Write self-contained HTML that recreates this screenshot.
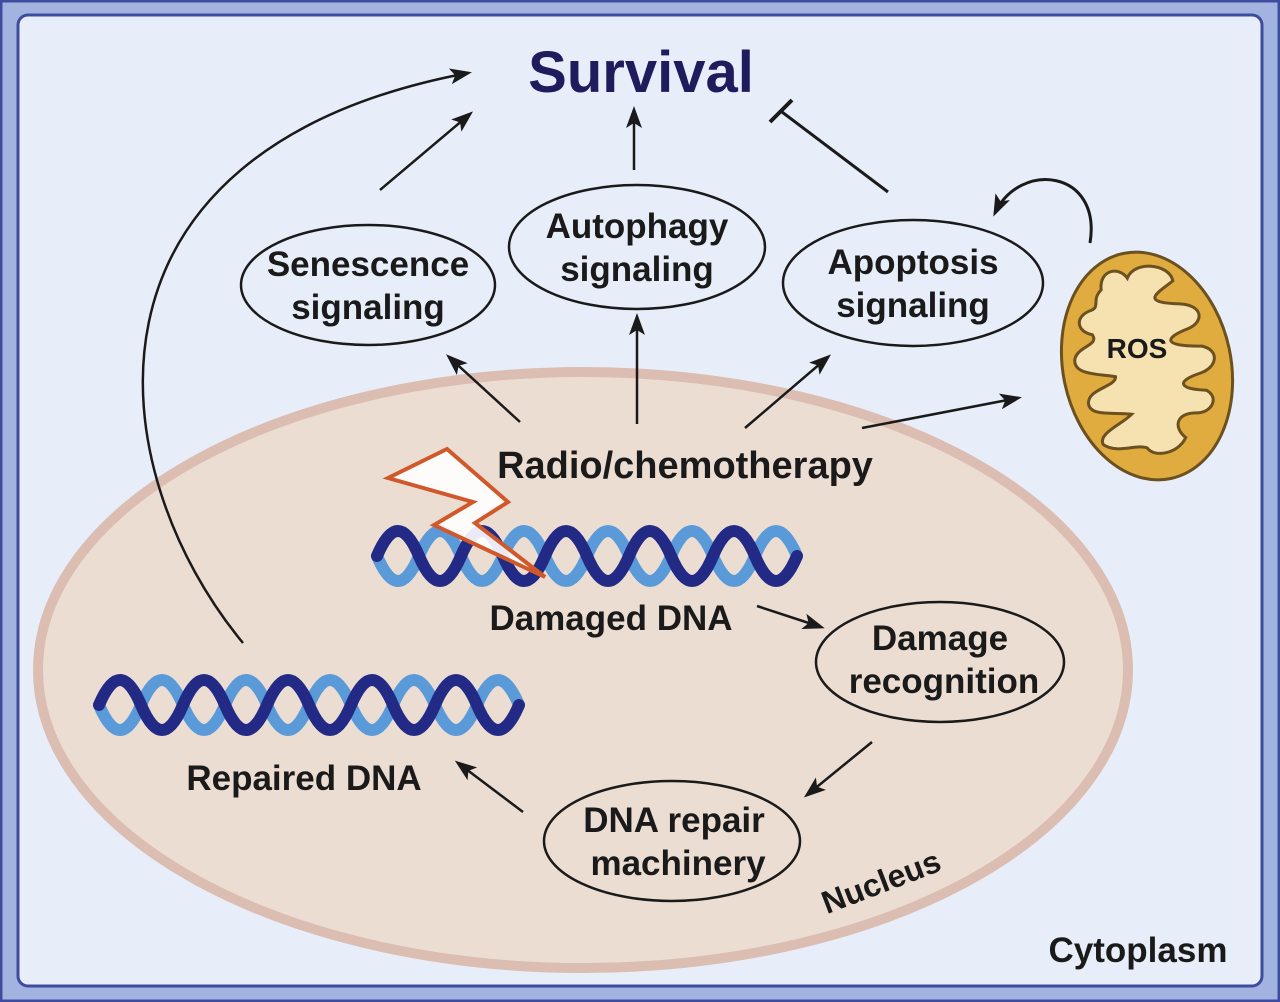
<!DOCTYPE html>
<html><head><meta charset="utf-8"><style>
html,body{margin:0;padding:0;background:#fff}
svg{display:block}
text{font-family:"Liberation Sans",Arial,sans-serif;font-weight:bold;fill:#1a1a1a}
</style></head><body>
<svg width="1280" height="1002" viewBox="0 0 1280 1002" xmlns="http://www.w3.org/2000/svg">
<defs>
<marker id="ahb" markerWidth="22" markerHeight="16" refX="18" refY="8" orient="auto" markerUnits="userSpaceOnUse">
<path d="M0,0 L22,8 L0,16 L5,8 Z" fill="#1a1a1a"/></marker>
</defs>
<rect x="1" y="1" width="1278" height="1000" fill="#a3b3e0" stroke="#3d4c9e" stroke-width="3"/>
<rect x="18" y="15" width="1244" height="971" rx="10" fill="#e8eef9" stroke="#3d4c9e" stroke-width="3"/>
<ellipse cx="583" cy="670" rx="545" ry="298" fill="#ecddd3" stroke="#dcbdb1" stroke-width="10"/>

<g stroke="#1a1a1a" stroke-width="2.5" fill="none">
<line x1="380" y1="190" x2="470" y2="114" marker-end="url(#ahb)"/>
<line x1="634" y1="170" x2="634" y2="110" marker-end="url(#ahb)"/>
<line x1="888" y1="192" x2="782" y2="112" stroke-width="3"/>
<line x1="770" y1="122" x2="792" y2="100" stroke-width="4"/>
<line x1="520" y1="422" x2="449" y2="357" marker-end="url(#ahb)"/>
<line x1="637" y1="424" x2="637" y2="317" marker-end="url(#ahb)"/>
<line x1="745" y1="428" x2="828" y2="357" marker-end="url(#ahb)"/>
<line x1="862" y1="428" x2="1018" y2="398" marker-end="url(#ahb)"/>
<line x1="757" y1="606" x2="821" y2="627" marker-end="url(#ahb)"/>
<line x1="872" y1="742" x2="807" y2="795" marker-end="url(#ahb)"/>
<line x1="523" y1="812" x2="458" y2="763" marker-end="url(#ahb)"/>
<path d="M243,643 C100,470 60,150 468,73" stroke-width="2.5" marker-end="url(#ahb)"/>
<path d="M1090,243 C1102,170 1020,160 995,213" stroke-width="3" marker-end="url(#ahb)"/>
</g>

<g fill="#e8eef9" stroke="#1a1a1a" stroke-width="2.5">
<ellipse cx="368" cy="285" rx="127" ry="60"/>
<ellipse cx="637" cy="247" rx="128" ry="62"/>
<ellipse cx="913" cy="283" rx="130" ry="63"/>
</g>
<g fill="#ecddd3" stroke="#1a1a1a" stroke-width="2.5">
<ellipse cx="940" cy="662" rx="124" ry="60"/>
<ellipse cx="672" cy="841" rx="128" ry="60"/>
</g>

<g transform="rotate(-12 1147 366)">
<ellipse cx="1147" cy="366" rx="84" ry="115" fill="#e0ab3f" stroke="#6b5020" stroke-width="3"/>
<path d="M1118,282 C1120,262 1140,262 1146,276 C1156,260 1190,270 1190,288 C1175,296 1150,302 1192,312 C1215,318 1212,335 1195,338 C1170,342 1165,350 1205,358 C1222,366 1215,382 1198,384 C1170,387 1175,396 1200,402 C1212,412 1200,426 1185,422 C1165,418 1160,432 1170,444 C1160,458 1135,458 1130,446 C1120,440 1100,446 1088,434 C1084,422 1110,418 1122,410 C1105,404 1080,404 1082,390 C1085,376 1112,380 1114,370 C1100,364 1072,360 1078,344 C1084,332 1105,336 1100,324 C1085,318 1086,302 1104,300 C1114,298 1106,290 1118,282 Z" fill="#f6e1b1" stroke="#6b5020" stroke-width="3"/>
</g>
<text x="1137" y="358" font-size="28" text-anchor="middle">ROS</text>

<g fill="none" stroke-linecap="round" stroke-width="12">
<path d="M377,556 q21,50 42,0 t42,0 t42,0 t42,0 t42,0 t42,0 t42,0 t42,0 t42,0 t42,0" stroke="#5a9ad8"/>
<path d="M377,556 q21,-50 42,0 t42,0 t42,0 t42,0 t42,0 t42,0 t42,0 t42,0 t42,0 t42,0" stroke="#232a85"/>
<path d="M99,705 q21,50 42,0 t42,0 t42,0 t42,0 t42,0 t42,0 t42,0 t42,0 t42,0 t42,0" stroke="#5a9ad8"/>
<path d="M99,705 q21,-50 42,0 t42,0 t42,0 t42,0 t42,0 t42,0 t42,0 t42,0 t42,0 t42,0" stroke="#232a85"/>
</g>
<polygon points="388,478 447,449 508,502 475,523 545,577 434,525 473,502" fill="#ffffff" fill-opacity="0.9" stroke="#d0582a" stroke-width="4"/>

<text x="641" y="92" font-size="58" text-anchor="middle" style="fill:#1f1b5c">Survival</text>
<g font-size="35" text-anchor="middle">
<text x="368" y="276">Senescence</text><text x="368" y="319">signaling</text>
<text x="637" y="238">Autophagy</text><text x="637" y="281">signaling</text>
<text x="913" y="274">Apoptosis</text><text x="913" y="317">signaling</text>
<text x="940" y="650">Damage</text><text x="944" y="693">recognition</text>
<text x="674" y="832">DNA repair</text><text x="678" y="875">machinery</text>
<text x="685" y="478" font-size="38">Radio/chemotherapy</text>
<text x="611" y="630">Damaged DNA</text>
<text x="304" y="790">Repaired DNA</text>
<text x="1138" y="962">Cytoplasm</text>
<text x="885" y="892" transform="rotate(-21 885 892)" font-size="32">Nucleus</text>
</g>
</svg>
</body></html>
